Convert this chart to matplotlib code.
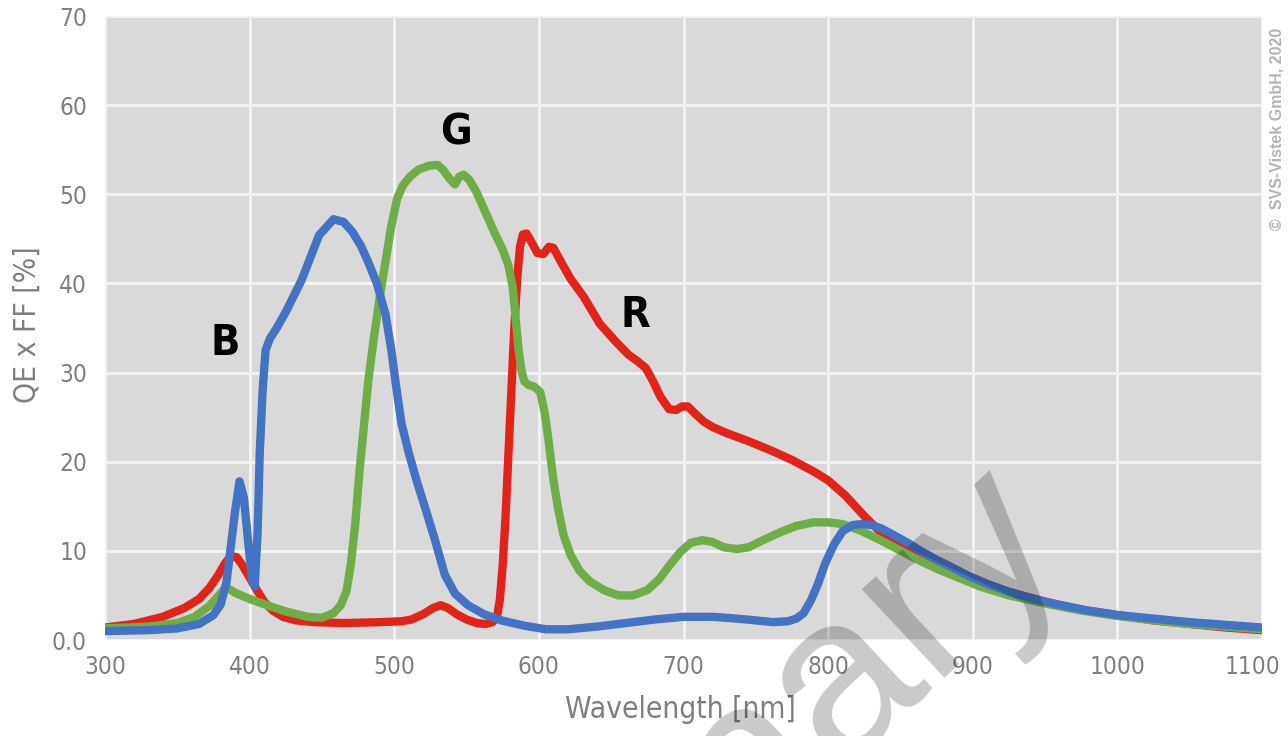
import os
import matplotlib
matplotlib.use("Agg")
import matplotlib.pyplot as plt
from matplotlib import font_manager
from matplotlib.font_manager import FontProperties
from matplotlib.transforms import ScaledTranslation

#--------------------------------------------
# donnees (QE x FF en %)
#--------------------------------------------
b_nm = [300, 330, 350, 365, 375, 380, 384, 387, 390, 393, 396, 399, 401.5, 403.5, 405.5, 407, 409, 411,
        414, 418, 425, 436, 448, 458, 465, 471, 477, 482, 488, 494, 498, 501, 505, 510, 516, 522, 528,
        535, 542, 551, 562, 574, 590, 605, 620, 640, 660, 680, 700, 720, 737, 750, 762, 772, 778, 783,
        788, 793, 798, 804, 810, 817, 823, 830, 837, 845, 855, 865, 875, 885, 897, 910, 925, 940, 958,
        980, 1000, 1025, 1050, 1075, 1100]
b_qe = [1.0, 1.1, 1.3, 1.8, 2.8, 4.0, 6.5, 10.5, 14.5, 17.8, 16.0, 11.0, 7.0, 6.0, 12, 21, 28, 32.5,
        33.8, 34.8, 36.8, 40.4, 45.4, 47.2, 46.9, 45.8, 44.2, 42.4, 40.0, 36.5, 32.5, 28.8, 24.3, 21.0,
        17.6, 14.5, 11.3, 7.3, 5.2, 3.9, 2.9, 2.2, 1.6, 1.2, 1.2, 1.5, 1.9, 2.3, 2.6, 2.6, 2.4, 2.2,
        2.0, 2.1, 2.4, 3.0, 4.4, 6.3, 8.6, 10.7, 12.2, 12.9, 13.0, 12.9, 12.5, 11.8, 10.9, 9.9, 9.0,
        8.2, 7.2, 6.3, 5.4, 4.7, 4.0, 3.3, 2.8, 2.4, 2.0, 1.7, 1.4]

r_nm = [300, 320, 340, 355, 365, 372, 378, 383, 387, 391, 395, 400, 405, 410, 416, 423, 432, 445, 465,
        490, 505, 512, 520, 527, 532, 537, 543, 550, 557, 563, 568, 571, 573, 575, 577, 579, 581, 583,
        585, 587, 589, 591.5, 595, 599, 603, 607, 610, 615, 622, 631, 642, 653, 662, 668, 674, 679, 684,
        690, 695, 699, 703, 708, 714, 720, 730, 745, 760, 775, 790, 800, 812, 825, 835, 848, 860, 875,
        890, 905, 925, 950, 975, 1000, 1025, 1050, 1075, 1100]
r_qe = [1.4, 1.8, 2.6, 3.6, 4.6, 5.8, 7.2, 8.6, 9.4, 9.3, 8.4, 7.0, 5.6, 4.3, 3.3, 2.6, 2.2, 2.0, 1.9,
        2.0, 2.1, 2.3, 2.9, 3.6, 3.9, 3.6, 2.9, 2.3, 1.9, 1.8, 2.0, 2.6, 4.5, 8.4, 14, 21, 28, 35, 40.5,
        44.2, 45.5, 45.6, 44.6, 43.4, 43.3, 44.1, 44.0, 42.5, 40.5, 38.5, 35.5, 33.5, 32, 31.3, 30.5,
        29.0, 27.3, 25.9, 25.8, 26.2, 26.2, 25.4, 24.5, 23.9, 23.2, 22.3, 21.3, 20.2, 18.9, 17.9, 16.2,
        13.9, 12.3, 10.8, 9.8, 8.6, 7.5, 6.5, 5.4, 4.3, 3.4, 2.8, 2.2, 1.8, 1.4, 1.1]

g_nm = [300, 330, 350, 362, 372, 378, 382, 385, 390, 400, 412, 425, 440, 450, 458, 463, 467, 470, 473,
        476, 479, 482, 486, 490, 494, 498, 502, 506, 511, 517, 524, 530, 534, 538, 542, 545, 548, 552,
        557, 563, 569, 575, 579, 582, 584, 586, 588, 590, 593, 597, 601, 604, 607, 610, 613, 617, 622,
        628, 635, 645, 655, 665, 675, 683, 690, 698, 705, 713, 720, 728, 737, 745, 755, 767, 778, 790,
        800, 810, 822, 835, 848, 862, 875, 890, 905, 925, 950, 975, 1000, 1025, 1050, 1075, 1100]
g_qe = [1.3, 1.5, 1.9, 2.6, 3.8, 4.9, 5.6, 5.8, 5.3, 4.6, 3.9, 3.2, 2.6, 2.5, 3.0, 3.9, 5.5, 8.5, 13,
        19, 24, 29, 34, 38.5, 42.5, 46.5, 49.5, 51.0, 52.0, 52.8, 53.2, 53.3, 52.7, 51.8, 51.1, 52.0,
        52.2, 51.6, 50.2, 48.0, 45.8, 43.8, 42.0, 39.5, 36, 32.5, 30.2, 29.0, 28.6, 28.4, 27.8, 25.5,
        22, 18, 15, 11.8, 9.5, 7.8, 6.6, 5.6, 5.0, 5.0, 5.6, 6.8, 8.3, 9.9, 10.9, 11.2, 11.0, 10.4,
        10.2, 10.4, 11.2, 12.1, 12.8, 13.2, 13.2, 13.0, 12.3, 11.3, 10.2, 9.0, 8.0, 7.0, 6.0, 5.0, 4.1,
        3.3, 2.7, 2.2, 1.8, 1.5, 1.2]

x_ticks = [300, 400, 500, 600, 700, 800, 900, 1000, 1100]
y_ticks = [0, 10, 20, 30, 40, 50, 60, 70]
y_labels = ["0.0", "10", "20", "30", "40", "50", "60", "70"]

#--------------------------------------------
# police etroite (si elle existe)
#--------------------------------------------
def trouve(fichiers):
    dispo = {os.path.basename(f.fname).lower(): f.fname for f in font_manager.fontManager.ttflist}
    for nom in fichiers:
        if nom.lower() in dispo:
            return dispo[nom.lower()]
    return None

f_reg = trouve(["NotoSans-ExtraCondensed.ttf", "NotoSans-Condensed.ttf", "LiberationSansNarrow-Regular.ttf",
                "DejaVuSansCondensed.ttf", "Roboto-Regular.ttf"])
f_bold = trouve(["NotoSans-ExtraCondensedSemiBold.ttf", "NotoSans-CondensedSemiBold.ttf",
                 "NotoSans-ExtraCondensedBold.ttf", "NotoSans-CondensedBold.ttf", "LiberationSansNarrow-Bold.ttf",
                 "DejaVuSansCondensed-Bold.ttf", "Roboto-Bold.ttf"])

def fp(taille, gras=False):
    f = f_bold if gras else f_reg
    if f is None:
        return FontProperties(family="DejaVu Sans", size=taille, weight="bold" if gras else "normal")
    return FontProperties(fname=f, size=taille)

gris = "#7f7f7f"

#--------------------------------------------
# figure
#--------------------------------------------
fig = plt.figure(figsize=(12.88, 7.36), dpi=100)
ax = fig.add_axes([105/1288, 1 - 640/736, 1157/1288, 624/736])
ax.set_facecolor("#d9d9d9")

ax.plot(r_nm, r_qe, color="#e2231a", lw=6, solid_joinstyle="round", solid_capstyle="round")
ax.plot(g_nm, g_qe, color="#70ad47", lw=6, solid_joinstyle="round", solid_capstyle="round")
ax.plot(b_nm, b_qe, color="#4472c4", lw=6, solid_joinstyle="round", solid_capstyle="round")

ax.set_xlim(300, 1100)
ax.set_ylim(0, 70)
ax.set_xticks(x_ticks)
ax.set_xticklabels([str(v) for v in x_ticks])
ax.set_yticks(y_ticks)
ax.set_yticklabels(y_labels)
for lab in ax.get_xticklabels() + ax.get_yticklabels():
    lab.set_fontproperties(fp(17.5))
    lab.set_color(gris)
ax.tick_params(length=0)
ax.tick_params(axis="x", pad=11)
ax.tick_params(axis="y", pad=13)
ax.grid(True, color="#f2f2f2", lw=2.2)
ax.set_axisbelow(True)
for s in ax.spines.values():
    s.set_visible(False)

# le dernier label (1100) deborde a droite : on le cale a droite
dernier = ax.get_xticklabels()[-1]
dernier.set_ha("right")
dernier.set_transform(dernier.get_transform() + ScaledTranslation(0.18, 0, fig.dpi_scale_trans))

fig.text(680/1288, 1 - 710/736, "Wavelength [nm]", fontproperties=fp(21.5), color=gris, ha="center", va="center")
fig.text(27/1288, 1 - 325/736, "QE x FF [%]", fontproperties=fp(21.5), color=gris, rotation=90,
         ha="center", va="center")

# etiquettes des canaux
ax.text(383, 33.3, "B", fontproperties=fp(31, True), ha="center", va="center")
ax.text(543, 56.9, "G", fontproperties=fp(31, True), ha="center", va="center")
ax.text(667, 36.5, "R", fontproperties=fp(31, True), ha="center", va="center")

# copyright
fig.text(1277/1288, 1 - 28/736, "\u00a9  SVS-Vistek GmbH, 2020", rotation=90, ha="center", va="top",
         family=["Liberation Sans", "DejaVu Sans"], fontsize=11.5, fontweight="bold", color="#b4b4b4")

# filigrane
fig.text(1068/1288, 1 - 545/736, "Preliminary", rotation=43, rotation_mode="anchor", ha="right",
         va="baseline", family=["Liberation Sans", "DejaVu Sans"], fontsize=165, color="black",
         alpha=0.21, zorder=10)

fig.savefig("out.png", dpi=100)
